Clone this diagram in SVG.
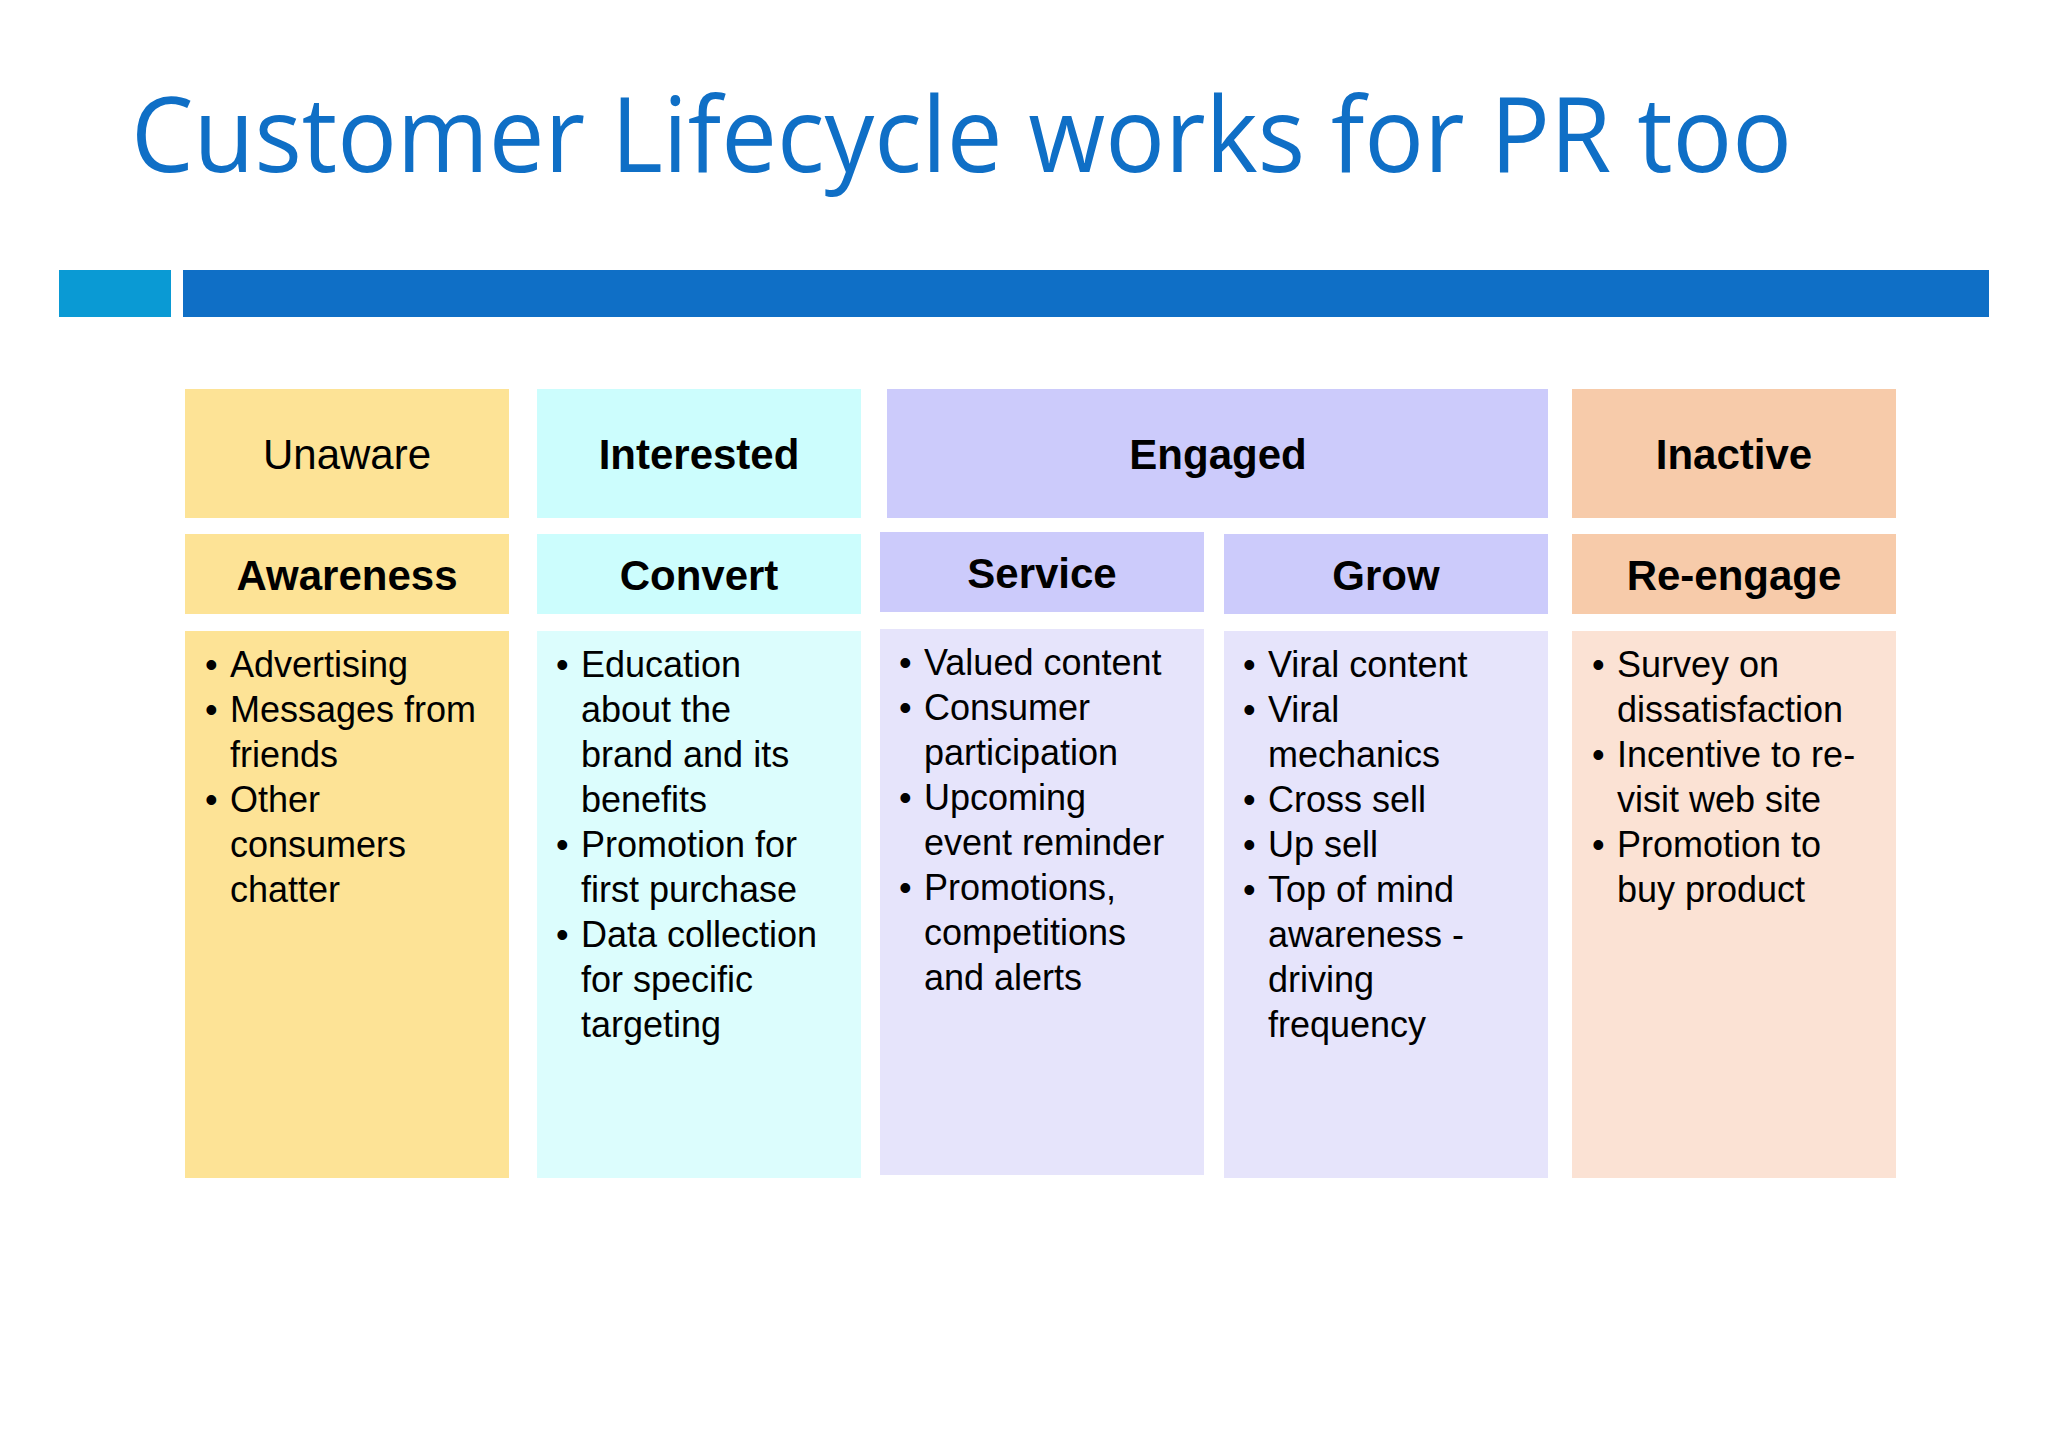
<svg xmlns="http://www.w3.org/2000/svg" width="2048" height="1448" viewBox="0 0 2048 1448">
<style>
.h{font-family:"Liberation Sans",Arial,sans-serif;font-size:42px;text-anchor:middle;fill:#000}
.b{font-weight:bold}
.t{font-family:"Liberation Sans",Arial,sans-serif;font-size:36px;fill:#000}
</style>
<rect width="2048" height="1448" fill="#fff"/>
<text x="131" y="172" font-family="Open Sans,'Liberation Sans',sans-serif" font-size="104" fill="#0f6fc6" textLength="1661" lengthAdjust="spacingAndGlyphs">Customer Lifecycle works for PR too</text>
<rect x="59" y="270" width="112" height="47" fill="#0a9ad4"/>
<rect x="183" y="270" width="1806" height="47" fill="#0f6fc6"/>
<g id="unaware"><rect x="185" y="389" width="324" height="129" fill="#fde396"/><text class="h" x="347" y="469">Unaware</text></g>
<g id="interested"><rect x="537" y="389" width="324" height="129" fill="#ccfdfd"/><text class="h b" x="699" y="469">Interested</text></g>
<g id="engaged"><rect x="887" y="389" width="661" height="129" fill="#cccbfb"/><text class="h b" x="1218" y="469">Engaged</text></g>
<g id="inactive"><rect x="1572" y="389" width="324" height="129" fill="#f7cbaa"/><text class="h b" x="1734" y="469">Inactive</text></g>
<g id="awareness"><rect x="185" y="534" width="324" height="80" fill="#fde396"/><text class="h b" x="347" y="590">Awareness</text>
<rect x="185" y="631" width="324" height="547" fill="#fde396"/>
<text class="t"><tspan x="205" y="677">•</tspan><tspan x="230" y="677">Advertising</tspan><tspan x="205" y="722">•</tspan><tspan x="230" y="722">Messages from</tspan><tspan x="230" y="767">friends</tspan><tspan x="205" y="812">•</tspan><tspan x="230" y="812">Other</tspan><tspan x="230" y="857">consumers</tspan><tspan x="230" y="902">chatter</tspan></text></g>
<g id="convert"><rect x="537" y="534" width="324" height="80" fill="#ccfdfd"/><text class="h b" x="699" y="590">Convert</text>
<rect x="537" y="631" width="324" height="547" fill="#dcfdfd"/>
<text class="t"><tspan x="556" y="677">•</tspan><tspan x="581" y="677">Education</tspan><tspan x="581" y="722">about the</tspan><tspan x="581" y="767">brand and its</tspan><tspan x="581" y="812">benefits</tspan><tspan x="556" y="857">•</tspan><tspan x="581" y="857">Promotion for</tspan><tspan x="581" y="902">first purchase</tspan><tspan x="556" y="947">•</tspan><tspan x="581" y="947">Data collection</tspan><tspan x="581" y="992">for specific</tspan><tspan x="581" y="1037">targeting</tspan></text></g>
<g id="service"><rect x="880" y="532" width="324" height="80" fill="#cccbfb"/><text class="h b" x="1042" y="588">Service</text>
<rect x="880" y="629" width="324" height="546" fill="#e6e4fb"/>
<text class="t"><tspan x="899" y="675">•</tspan><tspan x="924" y="675">Valued content</tspan><tspan x="899" y="720">•</tspan><tspan x="924" y="720">Consumer</tspan><tspan x="924" y="765">participation</tspan><tspan x="899" y="810">•</tspan><tspan x="924" y="810">Upcoming</tspan><tspan x="924" y="855">event reminder</tspan><tspan x="899" y="900">•</tspan><tspan x="924" y="900">Promotions,</tspan><tspan x="924" y="945">competitions</tspan><tspan x="924" y="990">and alerts</tspan></text></g>
<g id="grow"><rect x="1224" y="534" width="324" height="80" fill="#cccbfb"/><text class="h b" x="1386" y="590">Grow</text>
<rect x="1224" y="631" width="324" height="547" fill="#e6e4fb"/>
<text class="t"><tspan x="1243" y="677">•</tspan><tspan x="1268" y="677">Viral content</tspan><tspan x="1243" y="722">•</tspan><tspan x="1268" y="722">Viral</tspan><tspan x="1268" y="767">mechanics</tspan><tspan x="1243" y="812">•</tspan><tspan x="1268" y="812">Cross sell</tspan><tspan x="1243" y="857">•</tspan><tspan x="1268" y="857">Up sell</tspan><tspan x="1243" y="902">•</tspan><tspan x="1268" y="902">Top of mind</tspan><tspan x="1268" y="947">awareness -</tspan><tspan x="1268" y="992">driving</tspan><tspan x="1268" y="1037">frequency</tspan></text></g>
<g id="reengage"><rect x="1572" y="534" width="324" height="80" fill="#f7cbaa"/><text class="h b" x="1734" y="590">Re-engage</text>
<rect x="1572" y="631" width="324" height="547" fill="#fbe2d4"/>
<text class="t"><tspan x="1592" y="677">•</tspan><tspan x="1617" y="677">Survey on</tspan><tspan x="1617" y="722">dissatisfaction</tspan><tspan x="1592" y="767">•</tspan><tspan x="1617" y="767">Incentive to re-</tspan><tspan x="1617" y="812">visit web site</tspan><tspan x="1592" y="857">•</tspan><tspan x="1617" y="857">Promotion to</tspan><tspan x="1617" y="902">buy product</tspan></text></g>
<g id="connectors"/>
</svg>
